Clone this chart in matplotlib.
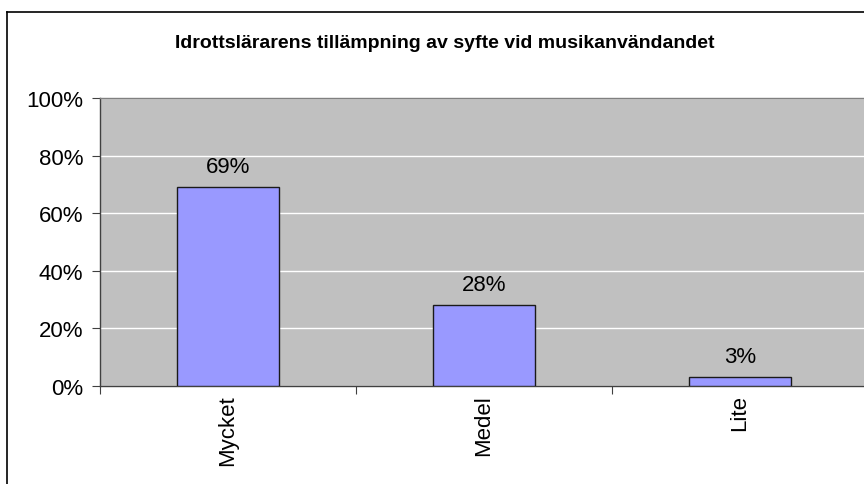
import numpy as np
import matplotlib.pyplot as plt
from matplotlib.lines import Line2D

categories = ['Mycket', 'Medel', 'Lite']
values = [69, 28, 3]
title = 'Idrottslärarens tillämpning av syfte vid musikanvändandet'

plt.rcParams['font.family'] = ['Liberation Sans', 'DejaVu Sans']

W, H = 864, 485
fig = plt.figure(figsize=(W / 100, H / 100), dpi=100)
fig.patch.set_facecolor('white')

# plot area in pixel coords (right edge runs just past the picture)
left, right, top, bottom = 100, 868, 99, 387
ax = fig.add_axes([left / W, 1 - bottom / H, (right - left) / W, (bottom - top) / H])
ax.set_facecolor('#C0C0C0')

x = np.arange(len(categories))
ax.bar(x, values, width=0.4, color='#9999FF', edgecolor='#1a1a1a', linewidth=1.0, zorder=3)

for xi, v in zip(x, values):
    ax.annotate(f'{v}%', (xi, v), xytext=(0, 15), textcoords='offset points',
                ha='center', va='center', fontsize=16)

ax.set_xlim(-0.5, len(categories) - 0.5)
ax.set_ylim(0, 100)
ax.set_yticks(np.arange(0, 101, 20))
ax.set_yticklabels([f'{t}%' for t in range(0, 101, 20)], fontsize=16)
ax.yaxis.grid(True, color='white', linewidth=1.0, zorder=0)

# category boundary ticks, labels at bar centres
ax.set_xticks(np.arange(-0.5, len(categories), 1.0))
ax.set_xticklabels([])
ax.set_xticks(x, minor=True)
ax.set_xticklabels(categories, minor=True, rotation=90, fontsize=16, va='top')
ax.tick_params(axis='x', which='minor', length=0, pad=6)
ax.tick_params(axis='x', which='major', length=6, color='#404040', direction='out')
ax.tick_params(axis='y', length=6, color='#404040', direction='out', pad=6)

for s in ['left', 'bottom']:
    ax.spines[s].set_color('#404040')
    ax.spines[s].set_linewidth(1.0)
ax.spines['top'].set_color('#808080')
ax.spines['top'].set_linewidth(1.0)
ax.spines['right'].set_visible(False)

fig.text(445 / W, 1 - 43 / H, title, ha='center', va='center',
         fontsize=14, fontweight='bold')

# outer chart frame (only left and top edges are visible)
fig.add_artist(Line2D([7 / W, 7 / W], [0, 1 - 12.5 / H], color='black', linewidth=1.2,
                      transform=fig.transFigure))
fig.add_artist(Line2D([7 / W, 1], [1 - 12.5 / H, 1 - 12.5 / H], color='black', linewidth=1.2,
                      transform=fig.transFigure))

fig.savefig('out.png', dpi=100)
